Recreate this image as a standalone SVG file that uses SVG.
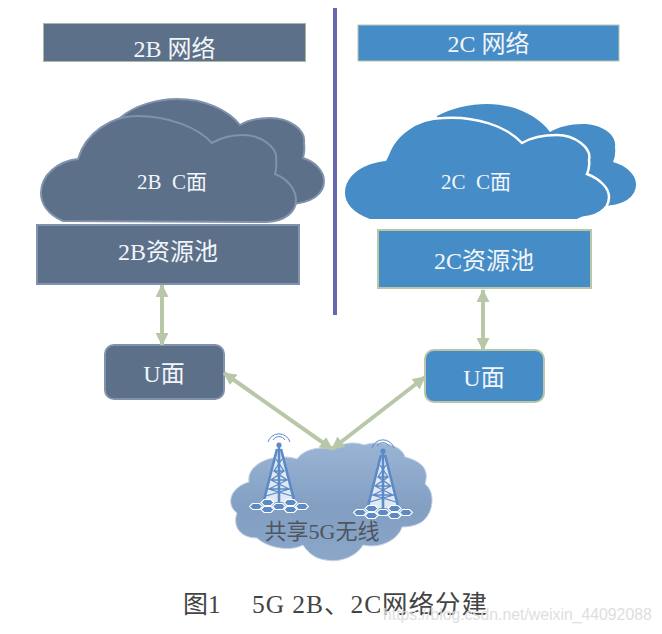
<svg xmlns="http://www.w3.org/2000/svg" width="662" height="634" viewBox="0 0 662 634">
<style>
.t{font-family:"Liberation Serif","Noto Sans CJK SC",serif;fill:#f2f5f9;text-anchor:middle}
.d{font-family:"Liberation Serif","Noto Sans CJK SC",serif;fill:#444}
.b{fill:#5c7089}
.bs{stroke:#8092ad;stroke-width:2}
.c{fill:#468cc6}
.cs{stroke:#b9c7a9;stroke-width:2}
.a{stroke:#b9c7a9;stroke-width:4;fill:none;marker-start:url(#ah);marker-end:url(#ah)}
.tw{stroke:#5b8ac6;fill:none;stroke-width:1.300}
.arc{fill:none;stroke:#5b8ac6;stroke-width:1}
.hex{fill:#5b8ac6;stroke:#fff;stroke-width:1.100}
</style>
<defs>
<marker id="ah" viewBox="0 0 12 12" refX="11" refY="6" markerWidth="13" markerHeight="13" markerUnits="userSpaceOnUse" orient="auto-start-reverse">
<path d="M0 0L12 6L0 12Z" fill="#b9c7a9"/>
</marker>
<linearGradient id="g" x1="0" y1="0" x2="0" y2="1">
<stop offset="0" stop-color="#9ab4d4"/><stop offset="0.55" stop-color="#829fc2"/><stop offset="1" stop-color="#8aa6c8"/>
</linearGradient>
<path id="hx" class="hex" d="M-3.500 -3h7l3 3l-3 3h-7l-3 -3z"/>
<g id="tower">
<path class="arc" d="M-11 -23A11.500 11.500 0 0 1 11 -23"/>
<path class="arc" d="M-6 -25A7 7 0 0 1 6 -25"/>
<circle cx="0" cy="-20" r="2.600" fill="#5b8ac6"/>
<path d="M-2 -14L-15 37H15L2 -14Z" fill="#dfe8f3"/>
<path d="M-2 -16L-15.500 37M2 -16L15.500 37" stroke="#5b8ac6" stroke-width="2.600" fill="none"/>
<path d="M0 -18V41" stroke="#5b8ac6" stroke-width="2.600" fill="none"/>
<path class="tw" d="M-3 -6L5 6L-8 15L10 24L-13 31M3 -6L-5 6L8 15L-10 24L13 31M-5 6H5M-8 15H8M-11 24H11"/>
<use href="#hx" x="-23" y="41.500"/>
<use href="#hx" x="-11.500" y="37.500"/>
<use href="#hx" x="-11.500" y="44.500"/>
<use href="#hx" x="0" y="41.500"/>
<use href="#hx" x="11.500" y="37.500"/>
<use href="#hx" x="11.500" y="44.500"/>
<use href="#hx" x="23" y="41.500"/>
</g>
</defs>
<rect width="662" height="634" fill="#fff"/>
<g id="divider"><rect x="333" y="8" width="4" height="307" fill="#6667ae"/></g>
<g id="title-2b"><rect x="43.500" y="23.500" width="262" height="38" class="b" stroke="#a9b9a3" stroke-width="1"/><text class="t" x="174.500" y="57" font-size="24">2B 网络</text></g>
<g id="title-2c"><rect x="358" y="25" width="261" height="36" class="c" stroke="#b9c7a9" stroke-width="1"/><text class="t" x="488.500" y="52" font-size="24">2C 网络</text></g>
<g id="cloud-2b">
<path class="b" stroke="#8092ad" stroke-width="2" d="M120 118C135 105 158 99 177 99C205 99 228 110 240 125C248 120 258 118 270 118C290 118 306 130 304 143Q305 151 303 158C316 162 324 172 324 181C324 194 312 203 290 204L120 200Z"/>
<path class="b" stroke="#8092ad" stroke-width="2" d="M63 221C47 214 41 203 41 193C41 175 58 161 78 159C86 132 112 116 137 116C170 116 198 128 212 143C222 137 232 135 243 135C262 135 278 148 276 160Q277 167 275 174C288 179 296 190 296 200C296 212 285 221 267 222Z"/>
<text class="t" x="172" y="189" font-size="21">2B&#160;&#160;C面</text>
</g>
<g id="cloud-2c">
<path class="c" d="M437 116C452 108 470 104 487 104C515 104 538 116 550 132C558 127 570 124 583 124C602 124 617 135 615 147Q616 155 613 162C627 166 636 175 636 184C636 197 624 206 600 206L440 200Z"/>
<path class="c" stroke="#fff" stroke-width="2.500" d="M370 218C353 213 345 203 345 193C345 175 364 163 386 161C392 134 418 118 443 118C476 116 506 126 522 143C532 137 545 135 557 135C575 135 592 148 589 160Q590 167 587 174C600 179 609 188 609 197C609 210 596 218 577 218Z"/>
<path class="c" d="M370 219C353 213 345 203 345 193C345 175 364 163 386 161C392 150 400 135 430 125L470 170L585 178C600 186 606 195 606 205L577 219Z"/>
<text class="t" x="476" y="189" font-size="21">2C&#160;&#160;C面</text>
</g>
<g id="pool-2b"><rect x="37" y="225" width="262" height="59" class="b bs"/><text class="t" x="168" y="260" font-size="24">2B资源池</text></g>
<g id="pool-2c"><rect x="378" y="230" width="213" height="58" class="c cs"/><text class="t" x="484" y="269" font-size="24">2C资源池</text></g>
<g id="u-2b"><rect x="105" y="345" width="119" height="54" rx="9" class="b bs"/><text class="t" x="164" y="382" font-size="24">U面</text></g>
<g id="u-2c"><rect x="425" y="350" width="119" height="52" rx="9" class="c cs"/><text class="t" x="484" y="386" font-size="24">U面</text></g>
<g id="wireless">
<path fill="url(#g)" stroke="#c3d2e6" stroke-width="1" d="M237 513C226 505 229 488 249 482C246 463 276 452 297 459C305 448 323 446 333 450C340 443 355 441 364 445C380 440 402 445 405 457C420 461 430 468 425 484C436 492 434 515 420 523C414 526 408 527 402 527C398 540 380 549 363 545C357 556 340 563 326 560C316 559 308 553 303 545C290 552 268 548 257 538C241 538 232 527 237 513Z"/>
<use href="#tower" x="279" y="465"/>
<use href="#tower" x="383" y="471"/>
<text class="d" x="322" y="539" font-size="22" text-anchor="middle" style="fill:#4f5660">共享5G无线</text>
</g>
<g id="connectors">
<path class="a" d="M162 285V345"/>
<path class="a" d="M483 290V350"/>
<path class="a" d="M224 373L332 449"/>
<path class="a" d="M425 377L332 449"/>
</g>
<text class="d" x="183" y="613" font-size="25">图1</text>
<text class="d" x="252" y="613" font-size="25.500" textLength="235">5G 2B、2C网络分建</text>
<text x="383" y="620" font-size="15.800" fill="#dedede" font-family="'Liberation Sans',sans-serif">https://blog.csdn.net/weixin_44092088</text>
</svg>
